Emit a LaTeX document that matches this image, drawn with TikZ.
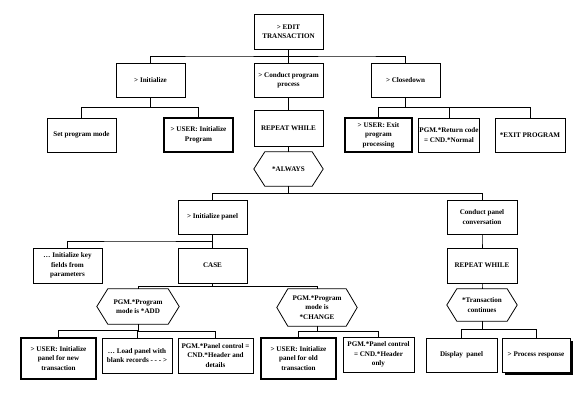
\documentclass[tikz,border=0pt]{standalone}
\usepackage{fontspec}
\setmainfont{Liberation Serif}
\usetikzlibrary{calc,shadows}

\newcommand{\hexframe}[2]{%
  \draw[frame-line] (#1.west) -- ([xshift=#2]#1.north west)
    -- ([xshift=-#2]#1.north east) -- (#1.east)
    -- ([xshift=-#2]#1.south east) -- ([xshift=#2]#1.south west) -- cycle;}

\begin{document}
\begin{tikzpicture}[x=1pt,y=-1pt,
font=\bfseries\fontsize{7.1}{9.4}\selectfont,
frame-line/.style = {draw=black,line width=0.8pt},
task-box/.style = {frame-line,fill=white,align=center,inner sep=1pt,
  minimum width=69pt,minimum height=34pt},
user-box/.style = {task-box,line width=2.2pt},
cond-box/.style = {align=center,inner sep=1pt,minimum width=69pt,minimum height=34pt},
link/.style = {line width=0.7pt,
  to path={|- ($(\tikztostart)!.5!(\tikztotarget)$) -| (\tikztotarget)}}
]
\useasboundingbox (0,0) rectangle (580,412);

% top level
\node[task-box,minimum height=35pt] (edit) at (288.5,31.5) {> EDIT\\TRANSACTION};
\node[task-box] (init) at (150.5,80) {> Initialize};
\node[task-box] (conduct) at (288.5,80) {> Conduct program\\process};
\node[task-box] (close) at (405.5,80) {> Closedown};

% second level
\node[task-box] (setmode) at (81.5,135) {Set program mode};
\node[user-box] (userinit) at (198.5,135) {> USER: Initialize\\Program};
\node[task-box,minimum height=36pt] (repeat) at (288.5,128) {REPEAT WHILE};
\node[cond-box] (always) at (288.5,169) {*ALWAYS};
\node[user-box,minimum width=67pt] (userexit) at (378.5,135) {> USER: Exit\\program\\processing};
\node[task-box,minimum width=61pt] (retcode) at (449,135) {PGM.*Return code\\= CND.*Normal};
\node[task-box,minimum width=70pt] (exitprog) at (530,135) {*EXIT PROGRAM};

% panel level
\node[task-box] (initpanel) at (212.5,217) {> Initialize panel};
\node[task-box,minimum width=70pt] (conv) at (482,217) {Conduct panel\\conversation};
\node[task-box,minimum height=35pt] (keyfields) at (67.5,265.5) {\dots\ Initialize key\\fields from\\parameters};
\node[task-box,minimum height=35pt] (case) at (212.5,265.5) {CASE};
\node[task-box,minimum width=70pt,minimum height=35pt] (repeattwo) at (482,265.5) {REPEAT WHILE};
\node[cond-box,minimum width=82pt,minimum height=35pt] (modeadd) at (138,306.5) {PGM.*Program\\mode is *ADD};
\node[cond-box,minimum width=80pt,minimum height=37pt] (modechg) at (317,307.5) {PGM.*Program\\mode is\\*CHANGE};
\node[cond-box,minimum width=70pt,minimum height=32pt] (trans) at (482,305) {*Transaction\\continues};

% bottom level
\node[user-box,minimum width=75pt,minimum height=41pt] (usernew) at (58.5,358.5) {> USER: Initialize\\panel for new\\transaction};
\node[task-box,minimum width=70pt,minimum height=35pt] (loadpanel) at (137,355.5) {\dots\ Load panel with\\blank records - - - >};
\node[task-box,minimum width=75pt,minimum height=35pt] (hdrdet) at (215.5,355.5) {PGM.*Panel control =\\CND.*Header and\\details};
\node[user-box,minimum width=75pt,minimum height=41pt] (userold) at (298.5,358.5) {> USER: Initialize\\panel for old\\transaction};
\node[task-box,minimum width=71pt,minimum height=35pt] (hdronly) at (378.5,354.5) {PGM.*Panel control\\= CND.*Header\\only};
\node[task-box,minimum width=71pt] (display) at (461.5,355) {Display~~panel};
\node[task-box,minimum width=68pt,
  drop shadow={shadow xshift=3pt,shadow yshift=-3pt,fill=black,opacity=1}] (process) at (536,355) {> Process response};

% hexagon frames
\hexframe{always}{11pt}
\hexframe{modeadd}{11pt}
\hexframe{modechg}{11pt}
\hexframe{trans}{10pt}

% connectors
\foreach \c in {init,conduct,close} \draw[link] (edit.south) to (\c.north);
\foreach \c in {setmode,userinit} \draw[link] (init.south) to (\c.north);
\foreach \c in {userexit,retcode,exitprog} \draw[link] (close.south) to (\c.north);
\draw[link] (conduct.south) to (repeat.north);
\draw[link] (repeat.south) to (always.north);
\foreach \c in {initpanel,conv} \draw[link] (always.south) to (\c.north);
\foreach \c in {keyfields,case} \draw[link] (initpanel.south) to (\c.north);
\foreach \c in {modeadd,modechg} \draw[link] (case.south) to (\c.north);
\draw[link] (conv.south) to (repeattwo.north);
\draw[link] (repeattwo.south) to (trans.north);
\foreach \c in {usernew,loadpanel,hdrdet} \draw[link] (modeadd.south) to (\c.north);
\foreach \c in {userold,hdronly} \draw[link] (modechg.south) to (\c.north);
\foreach \c in {display,process} \draw[link] (trans.south) to (\c.north);
\end{tikzpicture}
\end{document}
